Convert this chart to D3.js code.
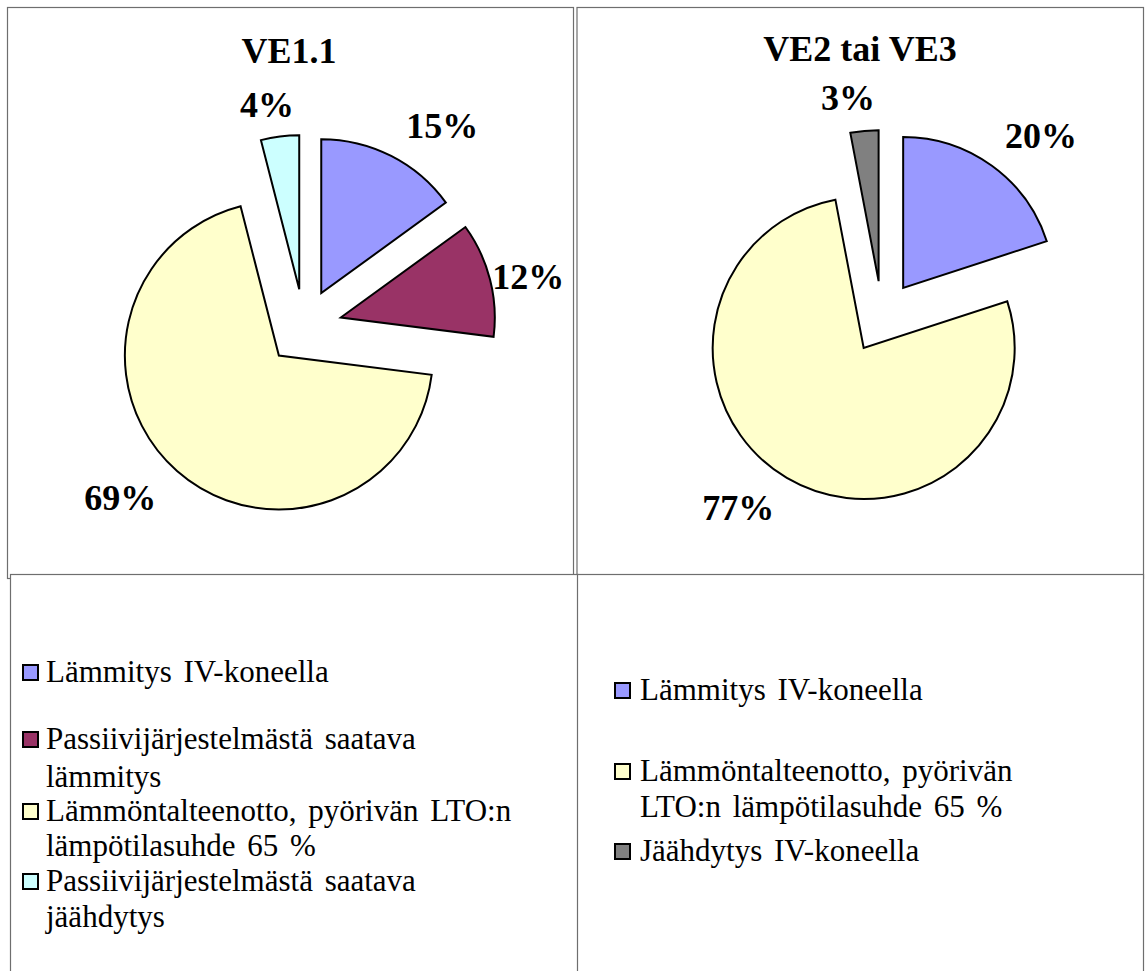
<!DOCTYPE html>
<html><head><meta charset="utf-8">
<script src="https://cdn.jsdelivr.net/npm/d3@7"></script>
<style>body{margin:0;background:#fff} svg{display:block} text{font-family:"Liberation Serif","Times New Roman","DejaVu Serif",serif}</style>
</head><body>
<svg id="c" width="1145" height="971"></svg>
<script>
// ---- data ----
const titleA = "VE1.1";
const categoriesA = ["Lämmitys IV-koneella", "Passiivijärjestelmästä saatava lämmitys", "Lämmöntalteenotto, pyörivän LTO:n lämpötilasuhde 65 %", "Passiivijärjestelmästä saatava jäähdytys"];
const valuesA = [15, 12, 69, 4];
const titleB = "VE2 tai VE3";
const categoriesB = ["Lämmitys IV-koneella", "Lämmöntalteenotto, pyörivän LTO:n lämpötilasuhde 65 %", "Jäähdytys IV-koneella"];
const valuesB = [20, 77, 3];
const allCategories = ["Lämmitys IV-koneella", "Passiivijärjestelmästä saatava lämmitys", "Lämmöntalteenotto, pyörivän LTO:n lämpötilasuhde 65 %", "Passiivijärjestelmästä saatava jäähdytys", "Jäähdytys IV-koneella"];
const palette = ["#9999FF", "#993366", "#FFFFCC", "#CCFFFF", "#808080"];

// ---- layout ----
const svg = d3.select("#c");
const color = d3.scaleOrdinal().domain(allCategories).range(palette);
const serif = "Liberation Serif, Times New Roman, serif";

const panels = [
  {x: 7, y: 7, w: 566, h: 571},
  {x: 576.5, y: 7, w: 566.5, h: 571},
  {x: 10, y: 574, w: 567.5, h: 420},
  {x: 577, y: 574, w: 566, h: 420}
];
svg.selectAll("rect.panel").data(panels).join("rect")
  .attr("class", "panel")
  .attr("x", d => d.x + 0.5).attr("y", d => d.y + 0.5)
  .attr("width", d => d.w).attr("height", d => d.h)
  .attr("fill", "#fff").attr("stroke", "#6e6e6e").attr("stroke-width", 1.2);

const charts = [
  {title: titleA, cats: categoriesA, vals: valuesA, cx: 304, cy: 327, r: 154, explode: 38,
   titleX: 289, titleY: 63,
   labelNudge: [{dA: 7.5, d: 244}, {dA: 1.6, d: 230}, {dA: 5.7, d: 251}, {dA: -2.2, d: 226}],
   legend: {markerX: 23, textX: 46, wrap: 480, baselines: [[682], [749, 787], [821, 856], [891, 927]]}},
  {title: titleB, cats: categoriesB, vals: valuesB, cx: 882, cy: 317, r: 151, explode: 36,
   titleX: 860, titleY: 61,
   labelNudge: [{dA: 5.3, d: 241}, {dA: 6.4, d: 239}, {dA: -3.4, d: 222}],
   legend: {markerX: 615, textX: 640, wrap: 430, baselines: [[700], [781, 817], [861]]}}
];

const pie = d3.pie().sort(null).value(d => d.v);

charts.forEach(ch => {
  const data = ch.cats.map((c, i) => ({c, v: ch.vals[i], i}));
  const arcs = pie(data);
  const arc = d3.arc().innerRadius(0).outerRadius(ch.r);
  const g = svg.append("g").attr("transform", `translate(${ch.cx},${ch.cy})`);

  g.selectAll("path").data(arcs).join("path")
    .attr("transform", a => {
      const m = (a.startAngle + a.endAngle) / 2;
      return `translate(${ch.explode * Math.sin(m)},${-ch.explode * Math.cos(m)})`;
    })
    .attr("d", arc)
    .attr("fill", a => color(a.data.c))
    .attr("stroke", "#000").attr("stroke-width", 2).attr("stroke-linejoin", "miter");

  g.selectAll("text.pct").data(arcs).join("text")
    .attr("class", "pct")
    .attr("x", a => {
      const n = ch.labelNudge[a.index];
      const m = (a.startAngle + a.endAngle) / 2 + n.dA * Math.PI / 180;
      return n.d * Math.sin(m);
    })
    .attr("y", a => {
      const n = ch.labelNudge[a.index];
      const m = (a.startAngle + a.endAngle) / 2 + n.dA * Math.PI / 180;
      return -n.d * Math.cos(m) + 12.5;
    })
    .attr("text-anchor", "middle")
    .attr("font-family", serif).attr("font-weight", "bold").attr("font-size", 36)
    .text(a => d3.format(".0%")(a.data.v / d3.sum(ch.vals)));

  svg.append("text")
    .attr("x", ch.titleX).attr("y", ch.titleY)
    .attr("text-anchor", "middle")
    .attr("font-family", serif).attr("font-weight", "bold").attr("font-size", 36)
    .text(ch.title);

  // legend
  const L = ch.legend;
  const lg = svg.append("g");
  data.forEach((d, i) => {
    const bl = L.baselines[i];
    lg.append("rect")
      .attr("x", L.markerX).attr("y", bl[0] - 17)
      .attr("width", 15).attr("height", 15)
      .attr("fill", color(d.c)).attr("stroke", "#000").attr("stroke-width", 2);
    const words = d.c.split(" ");
    const lines = [];
    let cur = "";
    const probe = lg.append("text").attr("font-family", serif).attr("font-size", 31).attr("word-spacing", 4);
    words.forEach(w => {
      const t = cur ? cur + " " + w : w;
      probe.text(t);
      if (probe.node().getComputedTextLength() > L.wrap && cur) { lines.push(cur); cur = w; }
      else cur = t;
    });
    lines.push(cur);
    probe.remove();
    lines.forEach((ln, k) => {
      lg.append("text")
        .attr("x", L.textX).attr("y", bl[Math.min(k, bl.length - 1)])
        .attr("font-family", serif).attr("font-size", 31).attr("word-spacing", 4)
        .attr("fill", "#000")
        .text(ln);
    });
  });
});
</script>
</body></html>
